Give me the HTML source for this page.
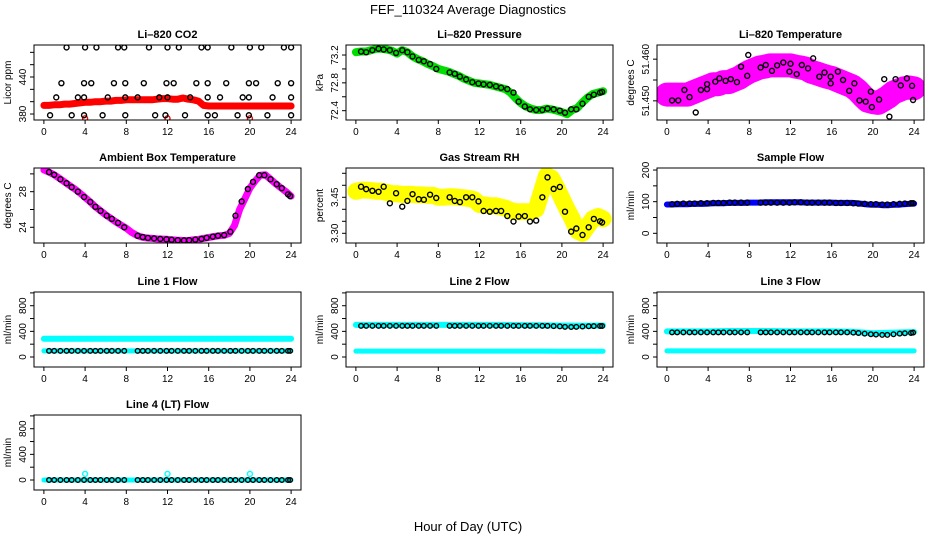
<!DOCTYPE html>
<html><head><meta charset="utf-8"><title>FEF_110324 Average Diagnostics</title>
<style>
html,body{margin:0;padding:0;background:#fff;}
svg{display:block;font-family:"Liberation Sans",Arial,sans-serif;}
</style></head>
<body>
<svg id="chart" width="936" height="540" viewBox="0 0 936 540" xmlns="http://www.w3.org/2000/svg">
<rect x="0" y="0" width="936" height="540" fill="#fff"/>
<text x="468" y="14" text-anchor="middle" font-size="13">FEF_110324  Average Diagnostics</text>
<text x="468" y="531" text-anchor="middle" font-size="13">Hour of Day (UTC)</text>
</svg>
<script>
// ---- data ----
const bandHours = [0,0.5,1,1.5,2,2.5,3,3.5,4,4.5,5,5.5,6,6.5,7,7.5,8,8.5,9,9.5,10,10.5,11,11.5,12,12.5,13,13.5,14,14.5,15,15.5,16,16.5,17,17.5,18,18.5,19,19.5,20,20.5,21,21.5,22,22.5,23,23.5,24];
const blackHours = [0.5,1.0,1.6,2.2,2.7,3.3,3.9,4.5,5.0,5.5,6.1,6.6,7.2,7.8,9.1,9.6,10.1,10.7,11.3,11.9,12.4,13.0,13.6,14.1,14.7,15.3,15.8,16.4,16.9,17.5,18.1,18.6,19.2,19.8,20.3,20.9,21.4,22.0,22.6,23.1,23.7,23.9];
const flowHours = [0,2,4,6,8,10,12,14,16,18,20,22,24];

const co2Band = [394,394,395,395,396,396,397,398,399,399,400,400,401,401,402,402,403,403,403,403,403,403,404,405,405,404,404,406,404,403,401,394,393,393,393,393,393,393,393,393,393,393,393,393,393,393,393,393,393];
const co2BlackHours = [2.2,4.0,5.1,7.2,7.8,10.2,12.0,13.1,15.3,15.9,18.2,20.0,21.1,23.3,24.0, 1.7,3.9,4.6,6.8,7.9,9.7,11.9,12.6,14.8,15.9,17.7,19.9,20.6,22.7,24.0, 1.2,3.3,3.9,6.2,7.9,9.1,11.2,12.0,14.2,15.9,17.1,19.3,19.9,22.2,24.0, 0.6,2.7,3.9,5.7,7.9,10.8,11.8,13.7,15.9,16.6,18.8,19.9,21.7,24.0];
const co2BlackValues = [488,488,488,488,488,488,488,488,488,488,488,488,488,488,488, 430,430,430,430,430,430,430,430,430,430,430,430,430,430,430, 407,407,407,407,407,407,407,407,407,407,407,407,407,407,407, 378,378,378,378,378,378,378,378,378,378,378,378,378,378];
const co2OutlierHours = [4,12,20];
const co2OutlierValues = [373,373,373];

const pressureBand = [73.24,73.25,73.25,73.27,73.29,73.29,73.28,73.26,73.22,73.27,73.24,73.18,73.14,73.11,73.07,73.04,73.00,72.98,72.96,72.93,72.90,72.86,72.83,72.80,72.79,72.78,72.77,72.75,72.73,72.71,72.66,72.58,72.51,72.46,72.43,72.41,72.41,72.43,72.42,72.40,72.38,72.35,72.41,72.44,72.52,72.59,72.64,72.66,72.68];
const pressureBlack = [73.25,73.24,73.27,73.29,73.28,73.27,73.23,73.27,73.24,73.18,73.13,73.11,73.07,73.00,72.95,72.93,72.89,72.85,72.81,72.79,72.78,72.77,72.75,72.73,72.71,72.66,72.53,72.46,72.42,72.41,72.41,72.43,72.42,72.40,72.37,72.42,72.42,72.50,72.60,72.63,72.66,72.67];

const liTempBand = [51.4515,51.4515,51.4515,51.4515,51.4515,51.452,51.4525,51.453,51.4535,51.454,51.454,51.4545,51.4545,51.455,51.4555,51.4563,51.457,51.4575,51.458,51.4582,51.4585,51.4585,51.4585,51.4585,51.4585,51.4582,51.458,51.4577,51.457,51.4566,51.4562,51.4558,51.4555,51.455,51.4545,51.454,51.4535,51.4525,51.4512,51.450,51.4497,51.4495,51.4502,51.451,51.452,51.4525,51.453,51.4532,51.453];
const liTempBlackHours = [0.5,1.1,1.7,2.2,2.8,3.3,3.9,3.9,4.7,5.1,5.7,6.2,6.8,7.2,7.8,7.9,9.1,9.6,10.2,10.7,11.3,11.9,12.0,12.6,13.1,13.7,14.2,14.8,15.3,15.9,15.9,16.6,17.1,17.7,18.2,18.7,19.3,19.8,19.9,20.6,21.1,21.6,22.2,22.7,23.3,23.8,23.9];
const liTempBlackValues = [51.4501,51.4501,51.4526,51.4509,51.4472,51.4526,51.4540,51.4528,51.4546,51.4554,51.4548,51.4552,51.4545,51.4582,51.4560,51.4610,51.4580,51.4586,51.4572,51.4585,51.4592,51.4570,51.4589,51.4564,51.4586,51.4578,51.4602,51.4558,51.4568,51.4558,51.4542,51.4570,51.4550,51.4524,51.4542,51.4501,51.4498,51.4522,51.4485,51.4503,51.4552,51.4462,51.4552,51.4537,51.4554,51.4536,51.4502];

const ambientBand = [30.45,30.2,29.9,29.5,29.1,28.7,28.3,27.85,27.35,26.85,26.3,25.85,25.4,25,24.6,24.25,23.9,23.45,23.1,22.9,22.8,22.75,22.7,22.67,22.65,22.6,22.55,22.52,22.52,22.6,22.65,22.75,22.85,22.95,23.05,23.1,23.3,24.2,26,27.2,28.4,29.2,29.85,29.9,29.4,28.9,28.45,28,27.5];
const ambientBlack = [30.2,29.9,29.4,28.95,28.5,28.0,27.4,26.85,26.3,25.85,25.3,24.95,24.5,24.0,23.05,22.9,22.8,22.75,22.7,22.65,22.6,22.55,22.52,22.55,22.62,22.7,22.82,22.95,23.05,23.12,23.5,25.3,26.9,28.3,29.1,29.85,29.85,29.4,28.85,28.4,27.7,27.5];

const rhBand = [3.475,3.48,3.48,3.478,3.475,3.475,3.47,3.465,3.465,3.462,3.462,3.462,3.46,3.46,3.458,3.458,3.45,3.45,3.452,3.452,3.45,3.448,3.445,3.44,3.42,3.418,3.415,3.415,3.41,3.405,3.395,3.39,3.39,3.39,3.39,3.4,3.47,3.54,3.53,3.49,3.445,3.4,3.36,3.31,3.3,3.33,3.36,3.37,3.36];
const rhBlack = [3.494,3.484,3.477,3.473,3.494,3.425,3.467,3.411,3.435,3.463,3.442,3.44,3.461,3.447,3.45,3.435,3.43,3.45,3.45,3.433,3.393,3.39,3.393,3.393,3.372,3.349,3.37,3.372,3.349,3.353,3.45,3.533,3.485,3.493,3.39,3.307,3.32,3.293,3.325,3.36,3.35,3.345];

const sampleBand = [91,91,92,92,92,93,93,93,94,95,95,95,96,96,96,96,97,97,97,98,98,98,98,98,98,98,98,97,97,97,97,97,97,96,96,96,96,95,93,91,90,90,89,89,90,90,92,93,94];
const sampleBlack = [92,93,94,94,94,95,95,96,96,96,97,97,97,97,97,97,97,97,97,97,98,98,97,97,97,97,97,96,96,96,95,94,93,92,92,91,91,92,93,94,95,95];

const line1Upper = [285,285,285,285,285,285,285,285,285,285,285,285,285];
const line1Lower = [95,95,95,95,95,95,95,95,95,95,95,95,95];
const line1Black = [95,95,95,95,95,95,95,95,95,95,95,95,95,95,95,95,95,95,95,95,95,95,95,95,95,95,95,95,95,95,95,95,95,95,95,95,95,95,95,95,95,95];

const line2Upper = [500,500,500,500,500,500,500,500,498,495,490,488,492];
const line2Lower = [92,92,92,92,92,92,92,92,92,92,90,90,90];
const line2Black = [485,485,485,485,485,485,485,485,485,485,485,485,485,485,485,485,485,485,485,485,485,485,485,485,485,485,485,485,485,485,485,485,482,478,470,468,470,475,480,482,484,484];

const line3Upper = [400,400,400,405,405,405,400,400,400,395,370,380,390];
const line3Lower = [95,95,95,95,95,95,95,95,95,95,95,95,95];
const line3Black = [385,385,385,385,385,385,385,385,385,385,385,385,385,385,385,385,385,385,385,385,385,385,385,385,385,385,385,385,385,385,380,375,365,355,350,345,345,355,365,370,375,380];

const line4Band = [0,0,0,0,0,0,0,0,0,0,0,0,0];
const line4Black = [0,0,0,0,0,0,0,0,0,0,0,0,0,0,0,0,0,0,0,0,0,0,0,0,0,0,0,0,0,0,0,0,0,0,0,0,0,0,0,0,0,0];
const line4SpikeHours = [4,12,20];
const line4SpikeValues = [95,95,95];

const xTicks = [0,4,8,12,16,20,24];

// ---- drawing ----
const NS = 'http://www.w3.org/2000/svg';
const svg = document.getElementById('chart');
function mk(tag, attrs, parent){
  const e = document.createElementNS(NS, tag);
  for (const k in attrs) e.setAttribute(k, attrs[k]);
  (parent||svg).appendChild(e);
  return e;
}
const W = 267, H = 75;
function panel(slug, x0, y0, ymin, ymax, title, ylab, yticks, ylabels){
  const g = mk('g', {});
  
  
  const xs = h => x0 + (h + 0.96) * (W / 25.92);
  const ys = v => y0 + H - (v - ymin) / (ymax - ymin) * H;
  const t = mk('text', {x: x0 + W/2, y: y0 - 7, 'text-anchor':'middle', 'font-size':11, 'font-weight':'bold'}, g);
  t.textContent = title;
  
  
  const yl = mk('text', {x:0, y:0, 'text-anchor':'middle', 'font-size':10, transform:`translate(${x0-23},${y0+H/2}) rotate(-90)`}, g);
  yl.textContent = ylab;
  
  
  // x axis
  const xa = mk('g', {}, g);
  
  
  mk('line', {x1: xs(0), x2: xs(24), y1: y0+H, y2: y0+H, stroke:'#000'}, xa);
  xTicks.forEach(v => {
    mk('line', {x1: xs(v), x2: xs(v), y1: y0+H, y2: y0+H+4, stroke:'#000'}, xa);
    const tl = mk('text', {x: xs(v), y: y0+H+15, 'text-anchor':'middle', 'font-size':10}, xa);
    tl.textContent = v;
    
    
  });
  // y axis
  const ya = mk('g', {}, g);
  
  
  mk('line', {x1: x0, x2: x0, y1: ys(yticks[0]), y2: ys(yticks[yticks.length-1]), stroke:'#000'}, ya);
  yticks.forEach(v => mk('line', {x1: x0-4, x2: x0, y1: ys(v), y2: ys(v), stroke:'#000'}, ya));
  ylabels.forEach(v => {
    const tl = mk('text', {x:0, y:0, 'text-anchor':'middle', 'font-size':10, transform:`translate(${x0-8},${ys(parseFloat(v))}) rotate(-90)`}, ya);
    tl.textContent = v;
    
    
  });
  const clipId = 'clip-' + slug;
  const cp = mk('clipPath', {id: clipId}, g);
  mk('rect', {x: x0, y: y0, width: W, height: H}, cp);
  const plot = mk('g', {'clip-path': `url(#${clipId})`}, g);
  mk('rect', {x: x0, y: y0, width: W, height: H, fill:'none', stroke:'#000', 'stroke-width':1}, g);
  return {xs, ys, plot};
}
function band(p, slug, hours, vals, color, width){
  const pts = hours.map((h,i) => p.xs(h).toFixed(1) + ',' + p.ys(vals[i]).toFixed(1)).join(' ');
  const pl = mk('polyline', {points: pts, fill:'none', stroke: color, 'stroke-width': width, 'stroke-linejoin':'round', 'stroke-linecap':'round'}, p.plot);
  
  
}
function dots(p, slug, hours, vals, color, r){
  hours.forEach((h,i) => {
    const c = mk('circle', {cx: p.xs(h), cy: p.ys(vals[i]), r: r||2.5, fill:'none', stroke: color, 'stroke-width':1.4}, p.plot);
    
    
  });
}
const C1 = 34, C2 = 346, C3 = 657, R1 = 45, R2 = 168, R3 = 292, R4 = 415;
const flowTicks = [0,200,400,600,800,1000], flowLabels = ['0','400','800'];

let p = panel('co2', C1, R1, 370.3, 491.9, 'Li\u2013820 CO2', 'Licor ppm', [380,400,420,440,460,480], ['380','440']);
band(p, 'co2-band', bandHours, co2Band, '#ff0000', 7);
dots(p, 'co2-outlier', co2OutlierHours, co2OutlierValues, '#ff0000');
dots(p, 'co2-point', co2BlackHours, co2BlackValues, '#000');

p = panel('pressure', C2, R1, 72.266, 73.344, 'Li\u2013820 Pressure', 'kPa', [72.4,72.6,72.8,73.0,73.2], ['72.4','72.8','73.2']);
band(p, 'pressure-band', bandHours, pressureBand, '#00dd00', 8);
dots(p, 'pressure-point', blackHours, pressureBlack, '#000');

p = panel('li-temp', C3, R1, 51.4454, 51.4634, 'Li\u2013820 Temperature', 'degrees C', [51.450,51.455,51.460], ['51.450','51.460']);
band(p, 'li-temp-band', bandHours, liTempBand, '#ff00ff', 24);
dots(p, 'li-temp-point', liTempBlackHours, liTempBlackValues, '#000');

p = panel('ambient', C1, R2, 22.236, 30.66, 'Ambient Box Temperature', 'degrees C', [24,26,28,30], ['24','28']);
band(p, 'ambient-band', bandHours, ambientBand, '#ff00ff', 7);
dots(p, 'ambient-point', blackHours, ambientBlack, '#000');

p = panel('rh', C2, R2, 3.2596, 3.572, 'Gas Stream RH', 'percent', [3.30,3.35,3.40,3.45,3.50,3.55], ['3.30','3.45']);
band(p, 'rh-band', bandHours, rhBand, '#ffff00', 17);
dots(p, 'rh-point', blackHours, rhBlack, '#000');

p = panel('sample-flow', C3, R2, -30.6, 206.4, 'Sample Flow', 'ml/min', [0,50,100,150,200], ['0','100','200']);
band(p, 'sample-band', bandHours, sampleBand, '#0000ff', 6);
dots(p, 'sample-point', blackHours, sampleBlack, '#000');

p = panel('line1', C1, R3, -156, 1014, 'Line 1 Flow', 'ml/min', flowTicks, flowLabels);
band(p, 'line1-upper-band', flowHours, line1Upper, '#00ffff', 6);
band(p, 'line1-lower-band', flowHours, line1Lower, '#00ffff', 5);
dots(p, 'line1-point', blackHours, line1Black, '#000', 2.3);

p = panel('line2', C2, R3, -156, 1014, 'Line 2 Flow', 'ml/min', flowTicks, flowLabels);
band(p, 'line2-upper-band', flowHours, line2Upper, '#00ffff', 6);
band(p, 'line2-lower-band', flowHours, line2Lower, '#00ffff', 5);
dots(p, 'line2-point', blackHours, line2Black, '#000', 2.3);

p = panel('line3', C3, R3, -156, 1014, 'Line 3 Flow', 'ml/min', flowTicks, flowLabels);
band(p, 'line3-upper-band', flowHours, line3Upper, '#00ffff', 6);
band(p, 'line3-lower-band', flowHours, line3Lower, '#00ffff', 5);
dots(p, 'line3-point', blackHours, line3Black, '#000', 2.3);

p = panel('line4', C1, R4, -156, 1014, 'Line 4 (LT) Flow', 'ml/min', flowTicks, flowLabels);
band(p, 'line4-band', flowHours, line4Band, '#00ffff', 5);
dots(p, 'line4-spike', line4SpikeHours, line4SpikeValues, '#00ffff');
dots(p, 'line4-point', blackHours, line4Black, '#000', 2.3);
</script>
</body></html>
